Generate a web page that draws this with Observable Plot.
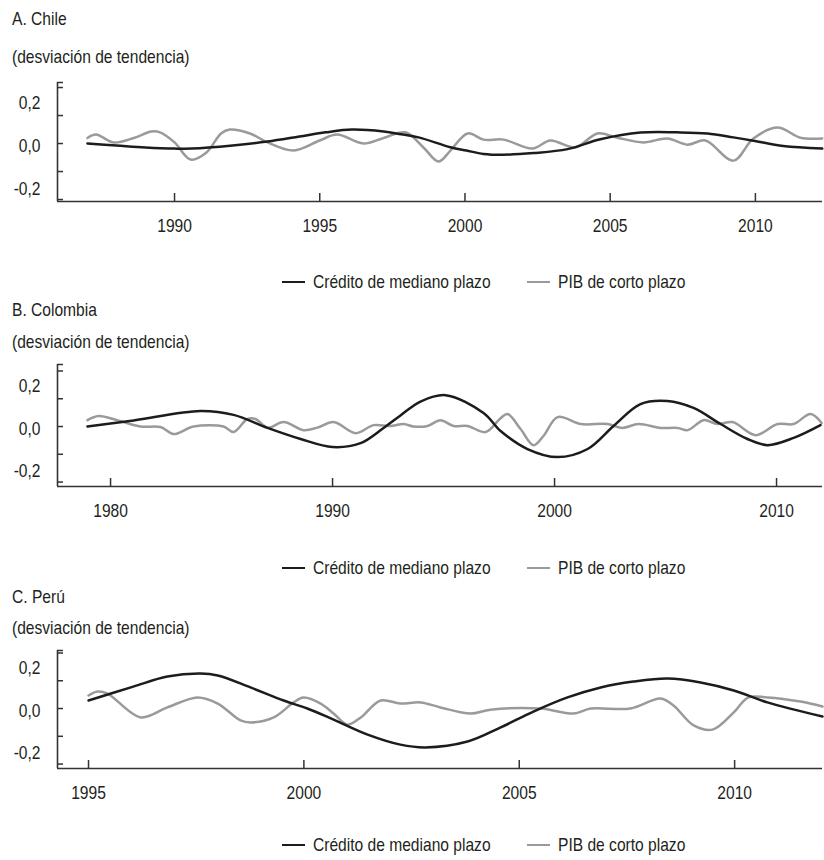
<!DOCTYPE html>
<html><head><meta charset="utf-8">
<script src="https://cdn.jsdelivr.net/npm/d3@7"></script>
<script src="https://cdn.jsdelivr.net/npm/@observablehq/plot@0.6"></script>
<style>
body{margin:0;background:#fff;}
#root{position:relative;width:824px;height:860px;font-family:'Liberation Sans',Arial,sans-serif;color:#231f20;overflow:hidden;}
.t{position:absolute;left:12px;font-size:19px;line-height:20px;white-space:nowrap;transform:scaleX(0.82);transform-origin:0 50%;}
.li{position:absolute;font-size:19px;line-height:20px;white-space:nowrap;display:flex;align-items:center;}
.li .tx{display:inline-block;transform:scaleX(0.82);transform-origin:0 50%;}
.sw{display:inline-block;width:23px;height:0;border-top:2.5px solid;margin-right:8px;}
svg{position:absolute;left:0;}
</style></head><body><div id="root"></div>
<script>
// ---------- data ----------
const seriesNames = ["Crédito de mediano plazo", "PIB de corto plazo"];
const seriesColors = ["#1e1b1c", "#9a9a9a"];
const yTickValues = [0.2, 0, -0.2];
const yTickLabels = ["0,2", "0,0", "-0,2"];
const yMinorTicks = [-0.2, -0.1, 0, 0.1, 0.2];

const chileTitle = "A. Chile", colombiaTitle = "B. Colombia", peruTitle = "C. Perú";
const unitLabel = "(desviación de tendencia)";
const chileXTicks = [1990, 1995, 2000, 2005, 2010];
const colombiaXTicks = [1980, 1990, 2000, 2010];
const peruXTicks = [1995, 2000, 2005, 2010];

const chileCredito = [[1987.0,0.0],[1988.0,-0.007],[1989.0,-0.014],[1990.0,-0.018],[1990.6,-0.018],[1992.0,-0.007],[1993.2,0.007],[1994.3,0.025],[1995.2,0.04],[1996.1,0.05],[1997.2,0.043],[1997.8,0.033],[1998.4,0.022],[1999.5,-0.013],[2000.05,-0.025],[2000.64,-0.037],[2001.3,-0.04],[2002.36,-0.034],[2003.53,-0.02],[2004.66,0.015],[2006.04,0.039],[2007.3,0.04],[2008.35,0.036],[2009.24,0.022],[2009.93,0.01],[2010.96,-0.009],[2012.3,-0.018]];
const chilePIB = [[1987.0,0.02],[1987.3,0.032],[1987.9,0.004],[1988.6,0.02],[1989.2,0.043],[1989.5,0.04],[1990.0,0.004],[1990.55,-0.057],[1991.1,-0.032],[1991.6,0.036],[1991.9,0.05],[1992.6,0.036],[1993.2,0.004],[1994.1,-0.025],[1995.0,0.011],[1995.6,0.032],[1996.5,0.0],[1997.2,0.02],[1997.95,0.04],[1998.57,-0.014],[1999.09,-0.064],[1999.5,-0.025],[2000.09,0.036],[2000.64,0.014],[2001.33,0.014],[2002.32,-0.018],[2002.94,0.011],[2003.8,-0.014],[2004.56,0.036],[2005.25,0.021],[2006.14,0.004],[2006.97,0.018],[2007.66,-0.004],[2008.28,0.011],[2009.24,-0.061],[2009.93,0.018],[2010.76,0.057],[2011.55,0.021],[2012.3,0.018]];

const colombiaCredito = [[1978.96,0.0],[1981.04,0.022],[1984.05,0.056],[1985.54,0.042],[1987.07,-0.005],[1988.56,-0.045],[1990.0,-0.074],[1991.26,-0.06],[1992.3,-0.005],[1993.06,0.04],[1993.96,0.09],[1995.09,0.113],[1996.8,0.049],[1997.57,-0.016],[1998.78,-0.081],[2000.14,-0.11],[2001.49,-0.081],[2002.66,0.002],[2003.87,0.081],[2005.09,0.092],[2006.26,0.067],[2007.48,0.009],[2008.69,-0.045],[2009.59,-0.067],[2010.77,-0.041],[2011.98,0.005]];
const colombiaPIB = [[1978.96,0.023],[1979.46,0.038],[1980.3,0.023],[1981.35,0.0],[1982.25,-0.002],[1982.84,-0.027],[1983.74,0.0],[1985.09,0.0],[1985.54,-0.02],[1986.17,0.027],[1986.53,0.027],[1987.07,-0.004],[1987.8,0.016],[1988.69,-0.013],[1989.32,-0.004],[1990.05,0.016],[1991.04,-0.024],[1991.85,0.005],[1992.6,0.002],[1993.2,0.009],[1993.65,0.0],[1994.28,0.002],[1994.86,0.023],[1995.45,0.002],[1996.08,0.002],[1996.9,-0.02],[1997.57,0.03],[1997.88,0.045],[1998.47,-0.009],[1999.05,-0.067],[1999.5,-0.034],[2000.14,0.034],[2001.17,0.009],[2002.39,0.009],[2003.06,-0.005],[2003.78,0.009],[2004.77,-0.005],[2005.54,-0.005],[2006.0,-0.013],[2006.71,0.023],[2007.34,0.009],[2008.02,0.016],[2009.05,-0.031],[2010.05,0.009],[2010.77,0.009],[2011.53,0.045],[2012.03,0.013]];

const peruCredito = [[1995.0,0.029],[1996.04,0.079],[1996.83,0.115],[1997.6,0.126],[1998.0,0.119],[1998.76,0.076],[1999.53,0.029],[2000.08,0.0],[2000.69,-0.04],[2001.48,-0.094],[2002.24,-0.13],[2002.82,-0.14],[2003.8,-0.119],[2004.57,-0.068],[2005.33,-0.011],[2006.12,0.04],[2006.89,0.076],[2007.65,0.097],[2008.44,0.108],[2009.21,0.094],[2009.98,0.065],[2010.76,0.022],[2012.04,-0.029]];
const peruPIB = [[1995.0,0.047],[1995.21,0.061],[1995.44,0.054],[1996.21,-0.032],[1996.83,0.004],[1997.53,0.04],[1998.0,0.018],[1998.53,-0.043],[1998.76,-0.05],[1999.3,-0.032],[1999.76,0.022],[1999.99,0.04],[2000.39,0.018],[2000.69,-0.018],[2001.01,-0.058],[2001.32,-0.032],[2001.78,0.029],[2002.24,0.018],[2002.71,0.022],[2003.17,0.004],[2003.87,-0.018],[2004.33,-0.004],[2005.49,0.0],[2006.26,-0.018],[2006.66,0.0],[2007.58,0.0],[2008.28,0.036],[2008.58,0.011],[2009.05,-0.061],[2009.49,-0.076],[2009.98,-0.014],[2010.32,0.04],[2010.76,0.04],[2011.53,0.025],[2012.04,0.007]];

// ---------- layout ----------
const FONT = "'Liberation Sans',Arial,sans-serif";
const NARROW = 0.82;
const panels = [
  {title: chileTitle, credito: chileCredito, pib: chilePIB, xTicks: chileXTicks,
   titleTop: 9, subTop: 47, plotTop: 82, plotBottom: 201, legendTop: 272,
   xDomain: [1985.97, 2012.31], yDomain: [-0.207, 0.218]},
  {title: colombiaTitle, credito: colombiaCredito, pib: colombiaPIB, xTicks: colombiaXTicks,
   titleTop: 300, subTop: 332, plotTop: 364, plotBottom: 486, legendTop: 558,
   xDomain: [1977.61, 2012.07], yDomain: [-0.216, 0.2234]},
  {title: peruTitle, credito: peruCredito, pib: peruPIB, xTicks: peruXTicks,
   titleTop: 587, subTop: 618, plotTop: 650, plotBottom: 768, legendTop: 835,
   xDomain: [1994.28, 2012.04], yDomain: [-0.216, 0.209]}
];
const labelShift = [15, 2, -11];

const root = document.getElementById("root");
function addText(cls, txt, top) {
  const d = document.createElement("div");
  d.className = cls; d.textContent = txt; d.style.top = top + "px";
  root.appendChild(d); return d;
}

for (const p of panels) {
  addText("t", p.title, p.titleTop);
  addText("t", unitLabel, p.subTop);
  const mt = 10, mb = 45, h = p.plotBottom - p.plotTop;
  const [x0, x1] = p.xDomain, [y0, y1] = p.yDomain;
  const pxX = (822 - 57) / (x1 - x0), pxY = h / (y1 - y0);
  const marks = [
    Plot.ruleY([...yMinorTicks, y1], {y: d => d, x1: x0, x2: x0 + 6 / pxX, stroke: "#333", strokeWidth: 1.5}),
    Plot.ruleX(p.xTicks, {x: d => d, y1: y0, y2: y0 + 8 / pxY, stroke: "#333", strokeWidth: 1.5}),
    Plot.ruleX([x0], {y1: y0, y2: y1, stroke: "#333", strokeWidth: 1.6}),
    Plot.ruleY([y0], {x1: x0, x2: x1, stroke: "#333", strokeWidth: 1.6}),
    Plot.axisX({ticks: p.xTicks, tickSize: 0, tickPadding: 17, tickFormat: d => String(d), fill: "#231f20"}),
    ...yTickValues.map((v, i) => Plot.text([v], {x: x0, y: d => d, text: () => yTickLabels[i], dx: -17, dy: labelShift[i], textAnchor: "end", fill: "#231f20"})),
    Plot.line(p.pib, {x: d => d[0], y: d => d[1], stroke: seriesColors[1], strokeWidth: 2.5, curve: "catmull-rom"}),
    Plot.line(p.credito, {x: d => d[0], y: d => d[1], stroke: seriesColors[0], strokeWidth: 2.5, curve: "catmull-rom"})
  ];
  const svg = Plot.plot({
    width: 824, height: h + mt + mb, marginLeft: 57, marginRight: 2, marginTop: mt, marginBottom: mb,
    style: {fontFamily: FONT, fontSize: "19px", background: "transparent", overflow: "visible"},
    x: {domain: p.xDomain, axis: null}, y: {domain: p.yDomain, axis: null},
    marks
  });
  svg.style.top = (p.plotTop - mt) + "px";
  root.appendChild(svg);
  // condensed look: compress SVG texts horizontally
  svg.querySelectorAll("text").forEach(t => {
    const w = t.getComputedTextLength();
    if (w > 0) { t.setAttribute("textLength", (w * NARROW).toFixed(2)); t.setAttribute("lengthAdjust", "spacingAndGlyphs"); }
  });
  const lefts = [282, 527];
  seriesNames.forEach((name, i) => {
    const d = document.createElement("div");
    d.className = "li"; d.style.top = p.legendTop + "px"; d.style.left = lefts[i] + "px";
    const sw = document.createElement("span"); sw.className = "sw"; sw.style.borderTopColor = seriesColors[i];
    const tx = document.createElement("span"); tx.className = "tx"; tx.textContent = name;
    d.appendChild(sw); d.appendChild(tx);
    root.appendChild(d);
  });
}
</script></body></html>
